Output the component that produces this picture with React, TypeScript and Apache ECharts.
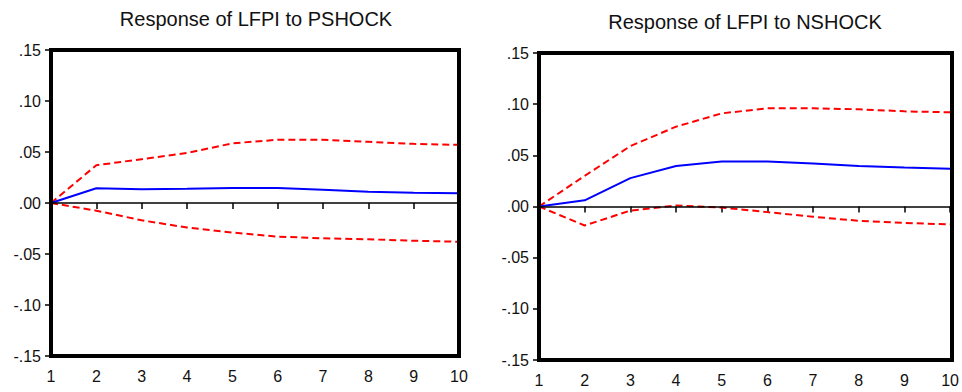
import React, { useEffect, useRef } from "react";
import * as echarts from "echarts";

const periods = [1, 2, 3, 4, 5, 6, 7, 8, 9, 10];

const pImpulse = [0, 0.0144, 0.0134, 0.014, 0.0147, 0.0147, 0.013, 0.011, 0.010, 0.0095];
const pUpper = [0, 0.037, 0.043, 0.049, 0.0585, 0.062, 0.062, 0.060, 0.058, 0.057];
const pLower = [0, -0.0075, -0.017, -0.024, -0.029, -0.033, -0.0346, -0.0356, -0.037, -0.038];

const nImpulse = [0, 0.006, 0.0277, 0.0395, 0.044, 0.044, 0.042, 0.0395, 0.038, 0.037];
const nUpper = [0, 0.030, 0.059, 0.078, 0.091, 0.096, 0.096, 0.095, 0.093, 0.092];
const nLower = [0, -0.0186, -0.004, 0.001, -0.001, -0.0055, -0.010, -0.014, -0.016, -0.0175];

const titles = ["Response of LFPI to PSHOCK", "Response of LFPI to NSHOCK"];

const FONT = "'Liberation Sans', Arial, sans-serif";

const pairs = (vals: number[]) => periods.map((p, i) => [p, vals[i]]);

const fmt = (v: number) => {
  const s = v.toFixed(2);
  if (s === "0.00" || s === "-0.00") return ".00";
  return s.replace("0.", ".");
};

export default function App() {
  const ref = useRef<HTMLDivElement>(null);
  useEffect(() => {
    if (!ref.current) return;
    const chart = echarts.init(ref.current, undefined, { renderer: "svg" });
    const grids = [
      { left: 51, top: 50, width: 408, height: 306 },
      { left: 539, top: 53, width: 413, height: 307 },
    ];
    const tick = { show: true, inside: false, length: 6, lineStyle: { color: "#000", width: 1.5 } };
    const mkX = (gi: number) => ({
      type: "value",
      gridIndex: gi,
      position: "bottom",
      min: 1,
      max: 10,
      interval: 1,
      axisLine: { show: false },
      axisTick: tick,
      axisLabel: { color: "#111", fontSize: 16, fontFamily: FONT, margin: 12 },
      splitLine: { show: false },
    });
    const mkY = (gi: number) => ({
      type: "value",
      gridIndex: gi,
      position: "left",
      min: -0.15,
      max: 0.15,
      interval: 0.05,
      axisLine: { show: false },
      axisTick: tick,
      axisLabel: { color: "#111", fontSize: 16, fontFamily: FONT, margin: 10, formatter: fmt },
      splitLine: { show: false },
    });
    const red = (data: number[], gi: number) => ({
      type: "line",
      xAxisIndex: gi,
      yAxisIndex: gi,
      data: pairs(data),
      showSymbol: false,
      symbol: "none",
      lineStyle: { color: "#ff0000", width: 2, type: [7, 4] },
      z: 3,
    });
    const blue = (data: number[], gi: number) => ({
      type: "line",
      xAxisIndex: gi,
      yAxisIndex: gi,
      data: pairs(data),
      showSymbol: false,
      symbol: "none",
      lineStyle: { color: "#0000ff", width: 2 },
      z: 4,
      markLine: {
        silent: true,
        symbol: "none",
        label: { show: false },
        lineStyle: { color: "#000", width: 1.5, type: "solid" },
        data: [{ yAxis: 0 }],
      },
    });
    const frames = grids.map((g) => ({
      type: "rect",
      z: 100,
      silent: true,
      shape: { x: g.left, y: g.top, width: g.width, height: g.height },
      style: { fill: "none", stroke: "#000", lineWidth: 4 },
    }));
    chart.setOption({
      animation: false,
      backgroundColor: "#fff",
      grid: grids,
      xAxis: [mkX(0), mkX(1)],
      yAxis: [mkY(0), mkY(1)],
      graphic: [
        ...frames,
        {
          type: "text",
          x: 256,
          y: 19,
          style: { text: titles[0], fontSize: 20, fontFamily: FONT, fill: "#111", align: "center", verticalAlign: "middle" },
        },
        {
          type: "text",
          x: 745,
          y: 22,
          style: { text: titles[1], fontSize: 20, fontFamily: FONT, fill: "#111", align: "center", verticalAlign: "middle" },
        },
      ],
      series: [
        blue(pImpulse, 0),
        red(pUpper, 0),
        red(pLower, 0),
        blue(nImpulse, 1),
        red(nUpper, 1),
        red(nLower, 1),
      ],
    });
    return () => chart.dispose();
  }, []);
  return <div ref={ref} style={{ position: "fixed", left: 0, top: 0, width: 962, height: 392 }} />;
}
